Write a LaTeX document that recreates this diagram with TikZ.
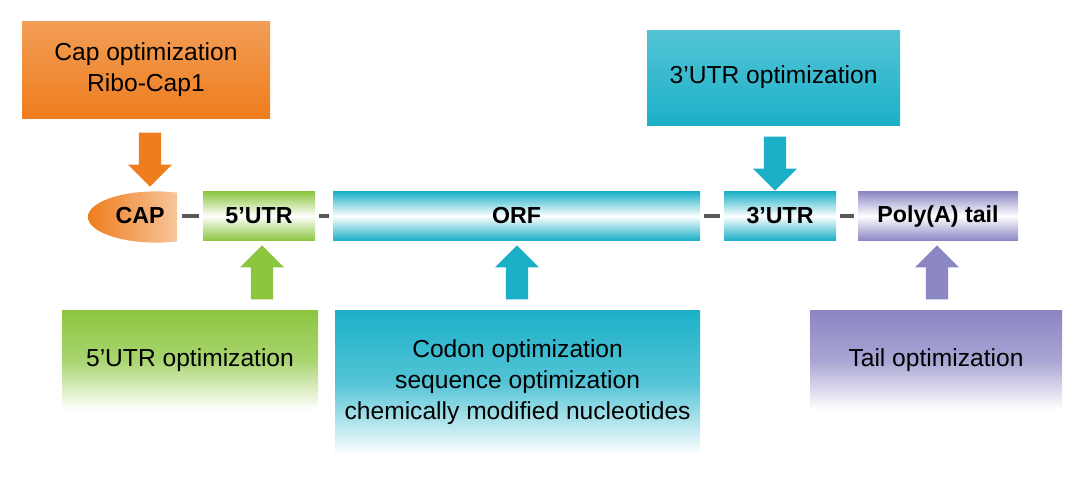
\documentclass[tikz,border=0pt]{standalone}
\usepackage{fontspec}
\setmainfont{Liberation Sans}
\usetikzlibrary{positioning,shapes.arrows}
\definecolor{capcol}{HTML}{EE7D1E}
\definecolor{utrcol}{HTML}{8CC63F}
\definecolor{orfcol}{HTML}{1BB0C8}
\definecolor{tailcol}{HTML}{8B86C4}
\tikzset{
    topbox/.style={inner sep=0pt, align=center, font=\fontsize{17.5}{22}\selectfont,
        top color=#1!75!white, bottom color=#1},
    lowbox/.style={inner sep=0pt, align=center, font=\fontsize{17.5}{22}\selectfont,
        top color=#1, bottom color=white, middle color=#1!75!white},
    segment/.style={inner sep=0pt, minimum height=1.225cm, font=\bfseries\fontsize{16.5}{19}\selectfont,
        top color=#1, bottom color=#1, middle color=white},
    link/.style={line width=3pt, draw=black!65, shorten <=0.1cm, shorten >=0.1cm},
    bigarrow/.style={single arrow, fill=#1, draw=none, inner sep=0.25cm, minimum width=1.1cm,
        single arrow tip angle=90, minimum height=1.35cm},
}
\begin{document}
\begin{tikzpicture}
\useasboundingbox (0,0) rectangle (27,-11.925);
% top boxes
\node[topbox=capcol, minimum width=6.2cm, minimum height=2.4cm] (capbox) at (3.65,-1.75) {Cap optimization\\Ribo-Cap1};
\node[topbox=orfcol, minimum width=6.325cm, minimum height=2.375cm] (utr3box) at (19.34,-1.94) {3'UTR optimization};
% the mRNA bar
\begin{scope}
    \clip (2.2,-4.7) rectangle (4.425,-6.2);
    \shade[left color=capcol, right color=capcol!15!white] (3.9,-5.425) ellipse (1.7cm and 0.64cm);
\end{scope}
\node[inner sep=0pt, minimum width=1.9cm, minimum height=1.275cm, font=\bfseries\fontsize{16.5}{19}\selectfont] (cap) at (3.5,-5.4) {CAP};
\node[segment=utrcol, minimum width=2.8cm] (utr5) at (6.475,-5.4) {5’UTR};
\node[segment=orfcol, minimum width=9.175cm] (orf) at (12.913,-5.4) {ORF};
\node[segment=orfcol, minimum width=2.8cm] (utr3) at (19.5,-5.4) {3’UTR};
\node[segment=tailcol, minimum width=4cm] (tail) at (23.45,-5.4) {Poly(A) tail};
\draw[link] (cap) -- (utr5);
\draw[link] (utr5) -- (orf);
\draw[link] (orf) -- (utr3);
\draw[link] (utr3) -- (tail);
% arrows
\node[bigarrow=capcol, shape border rotate=270] (a1) at (3.75,-3.85) {};
\node[bigarrow=orfcol, shape border rotate=270] (a2) at (19.375,-3.95) {};
\node[bigarrow=utrcol, shape border rotate=90] (a3) at (6.55,-6.95) {};
\node[bigarrow=orfcol, shape border rotate=90] (a4) at (12.925,-6.95) {};
\node[bigarrow=tailcol, shape border rotate=90] (a5) at (23.425,-6.95) {};
% bottom boxes
\node[lowbox=utrcol, minimum width=6.4cm, minimum height=2.5cm] (utr5box) at (4.75,-9) {5’UTR optimization};
\node[lowbox=orfcol, minimum width=9.125cm, minimum height=3.625cm] (orfbox) at (12.94,-9.5625) {Codon optimization\\sequence optimization\\chemically modified nucleotides};
\node[lowbox=tailcol, minimum width=6.3cm, minimum height=2.5cm] (tailbox) at (23.4,-9) {Tail optimization};
\end{tikzpicture}
\end{document}
